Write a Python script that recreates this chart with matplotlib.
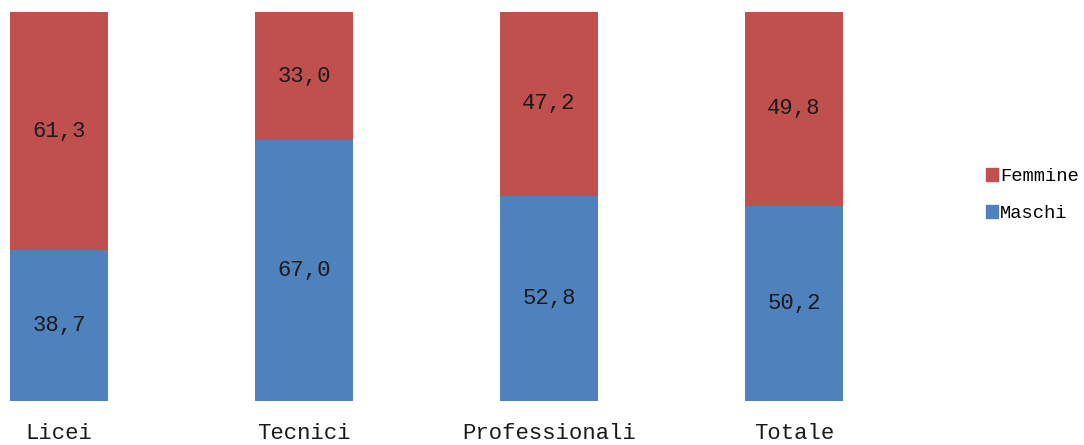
import matplotlib
matplotlib.use("Agg")
import matplotlib.pyplot as plt
from matplotlib.patches import Patch

categories = ["Licei", "Tecnici", "Professionali", "Totale"]
maschi = [38.7, 67.0, 52.8, 50.2]
femmine = [61.3, 33.0, 47.2, 49.8]
series_names = ["Maschi", "Femmine"]

blue = "#4F81BD"
red = "#C0504D"
font = ["Liberation Mono", "DejaVu Sans Mono"]

fig = plt.figure(figsize=(10.84, 4.45), dpi=100)
W, H = 1084, 445
ax = fig.add_axes([0, (H - 401) / H, 960 / W, 389 / H])

x = list(range(len(categories)))
bw = 98 / 245
ax.bar(x, maschi, width=bw, color=blue, label=series_names[0])
ax.bar(x, femmine, width=bw, bottom=maschi, color=red, label=series_names[1])

def fmt(v):
    return f"{v:.1f}".replace(".", ",")

for i in x:
    ax.text(i, maschi[i] / 2, fmt(maschi[i]), ha="center", va="center",
            fontsize=16, family=font, color="#1a1a1a")
    ax.text(i, maschi[i] + femmine[i] / 2, fmt(femmine[i]), ha="center", va="center",
            fontsize=16, family=font, color="#1a1a1a")

xmin = -59 / 245
ax.set_xlim(xmin, xmin + 960 / 245)
ax.set_ylim(0, 100)
ax.set_xticks(x)
ax.set_xticklabels(categories, fontsize=16, family=font, color="#1a1a1a")
ax.tick_params(axis="x", length=0, pad=16)
ax.set_yticks([])
for s in ax.spines.values():
    s.set_visible(False)

handles = [Patch(color=red, label="Femmine"), Patch(color=blue, label="Maschi")]
fig.legend(handles=handles, loc="center left", bbox_to_anchor=(986 / W, 1 - 195 / H),
           frameon=False, prop={"family": font, "size": 13.5},
           handlelength=0.65, handleheight=0.65, handletextpad=0.1, labelspacing=1.05,
           borderaxespad=0, borderpad=0)

fig.savefig("out.png", dpi=100)
